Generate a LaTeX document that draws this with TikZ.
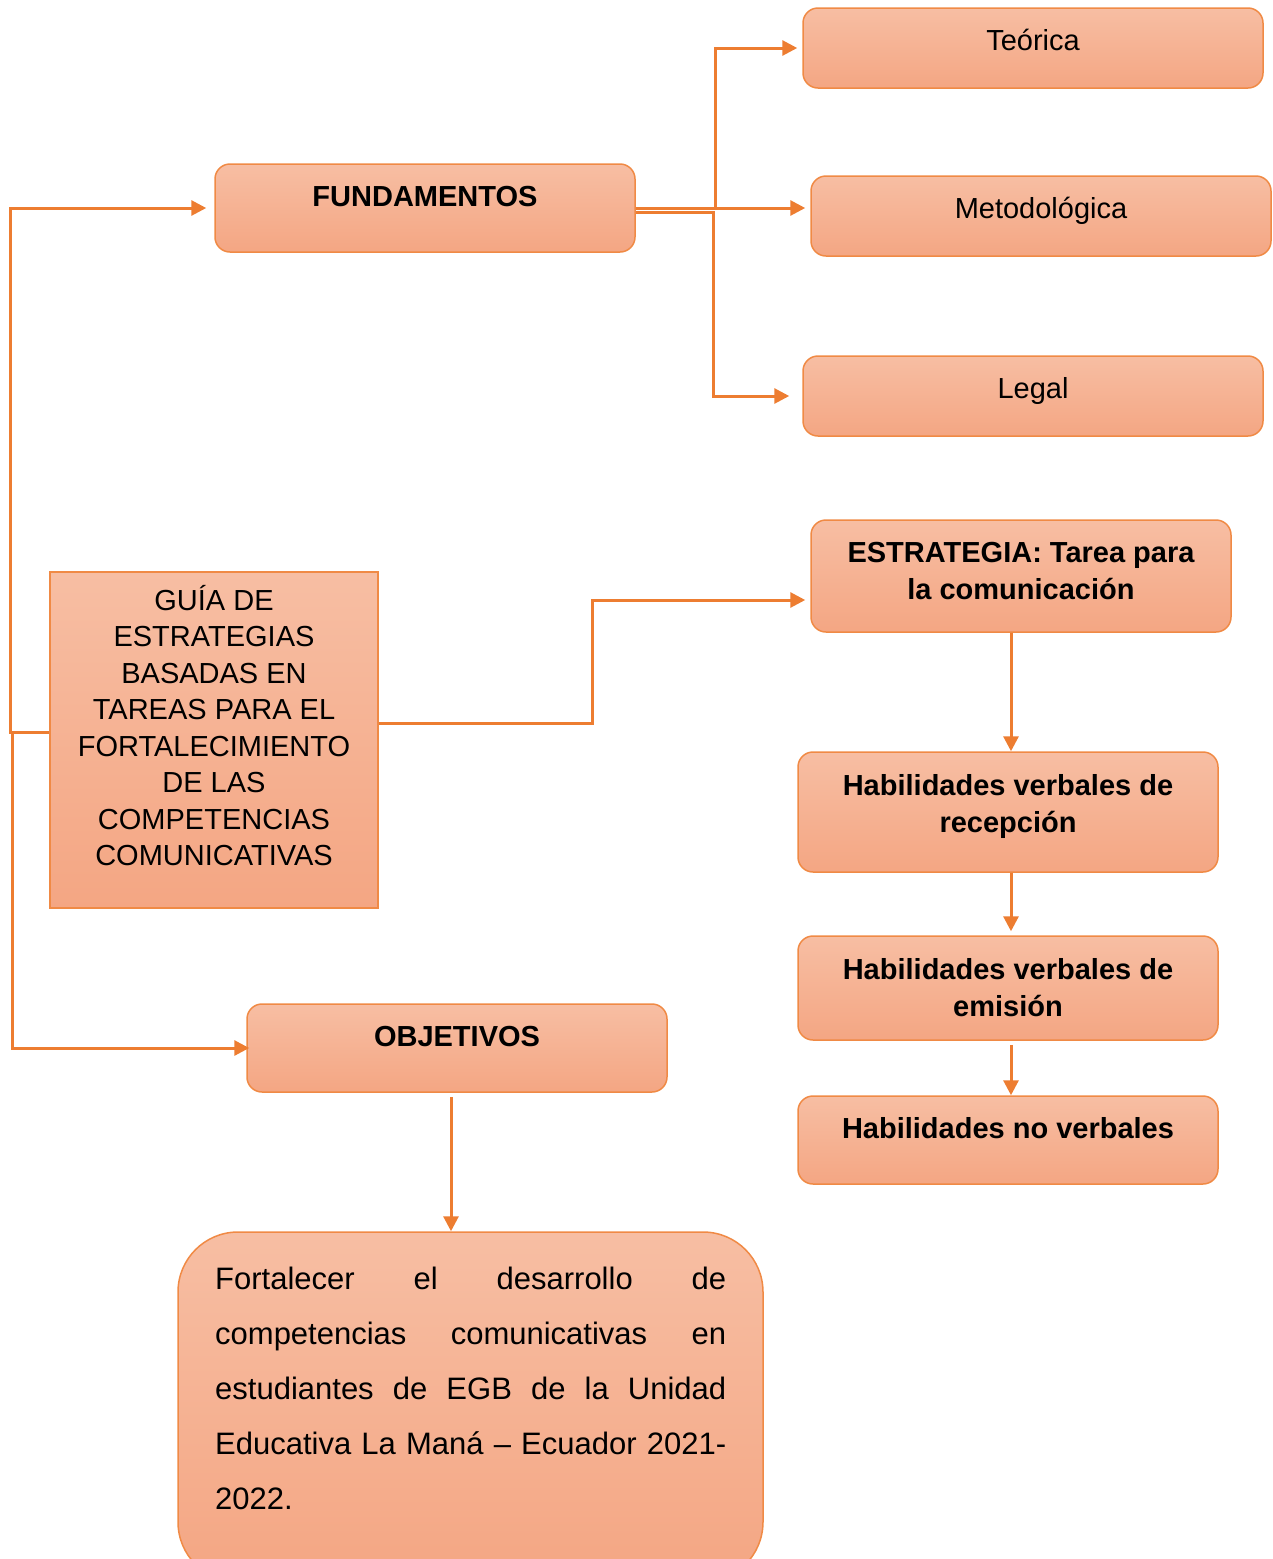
\documentclass[tikz,border=0pt]{standalone}
\usepackage{fontspec}
\setmainfont{Liberation Sans}
\usetikzlibrary{arrows.meta,positioning,calc}
\definecolor{boxtop}{HTML}{F7BEA3}
\definecolor{boxbot}{HTML}{F4A683}
\definecolor{edge}{HTML}{F08A45}
\definecolor{conn}{HTML}{ED7D31}
\tikzset{
  box/.style={draw=edge, line width=1.5pt, top color=boxtop, bottom color=boxbot, rounded corners=15pt, inner sep=0pt},
  sqbox/.style={draw=edge, line width=1.5pt, top color=boxtop, bottom color=boxbot, inner sep=0pt},
  lbl/.style={anchor=north, inner sep=0pt, align=center, font=\fontsize{29}{37}\selectfont},
  blbl/.style={lbl, font=\fontsize{29}{37}\selectfont\bfseries},
  arr/.style={draw=conn, line width=3pt, -{Triangle[length=15pt,width=15pt]}},
}
\newcommand{\tp}{\rule{0pt}{28pt}}
\begin{document}
\begin{tikzpicture}[x=1pt,y=-1pt]
\useasboundingbox (0,0) rectangle (1273,1559);
% boxes
\node[box, minimum width=460pt, minimum height=80pt] (teo) at (1033,48) {};
\node[box, minimum width=460pt, minimum height=80pt] (meto) at (1041,216) {};
\node[box, minimum width=460pt, minimum height=80pt] (legal) at (1033,396) {};
\node[box, minimum width=420pt, minimum height=88pt] (fund) at (425,208) {};
\node[box, minimum width=420pt, minimum height=112pt] (estr) at (1021,576) {};
\node[box, minimum width=420pt, minimum height=120pt] (rec) at (1008,812) {};
\node[box, minimum width=420pt, minimum height=104pt] (emi) at (1008,988) {};
\node[box, minimum width=420pt, minimum height=88pt] (nov) at (1008,1140) {};
\node[box, minimum width=420pt, minimum height=88pt] (obj) at (457,1048) {};
\node[sqbox, minimum width=328pt, minimum height=336pt] (guia) at (214,740) {};
\node[box, rounded corners=60pt, minimum width=585pt, minimum height=350pt] (goal) at (470.5,1407) {};
% texts
\node[lbl] (teot) at ($(teo.north)+(0,15)$) {\tp Teórica};
\node[lbl] (metot) at ($(meto.north)+(0,15)$) {\tp Metodológica};
\node[lbl] (legalt) at ($(legal.north)+(0,15)$) {\tp Legal};
\node[blbl] (fundt) at ($(fund.north)+(0,15)$) {\tp FUNDAMENTOS};
\node[blbl] (estrt) at ($(estr.north)+(0,15)$) {\tp ESTRATEGIA: Tarea para\\la comunicación};
\node[blbl] (rect) at ($(rec.north)+(0,16)$) {\tp Habilidades verbales de\\recepción};
\node[blbl] (emit) at ($(emi.north)+(0,16)$) {\tp Habilidades verbales de\\emisión};
\node[blbl] (novt) at ($(nov.north)+(0,15)$) {\tp Habilidades no verbales};
\node[blbl] (objt) at ($(obj.north)+(0,15)$) {\tp OBJETIVOS};
\node[lbl, font=\fontsize{29}{36.5}\selectfont] (guiat) at ($(guia.north)+(0,11)$) {\tp GUÍA DE\\ESTRATEGIAS\\BASADAS EN\\TAREAS PARA EL\\FORTALECIMIENTO\\DE LAS\\COMPETENCIAS\\COMUNICATIVAS};
\node[anchor=north west, inner sep=0pt, text width=511pt, align=justify, font=\fontsize{31}{55}\selectfont] (goalt) at (215,1261)
  {\hyphenpenalty=10000\rule{0pt}{28pt}Fortalecer el desarrollo de\linebreak competencias comunicativas en\linebreak estudiantes de EGB de la Unidad\linebreak Educativa La Maná – Ecuador 2021-\linebreak 2022.};
% connectors
\draw[arr] (fund.east) -- ++(80,0) |- ([xshift=-5pt]teo.west);
\draw[arr] (fund.east) -- ([xshift=-5pt]fund.east -| meto.west);
\draw[arr] ([yshift=-4pt]fund.east) -- ++(78,0) |- ([xshift=-13pt]legal.west);
\draw[arr] ([yshift=8pt]guia.west) -- ++(-39,0) |- ([xshift=-8pt]fund.west);
\draw[arr] ([yshift=8pt]guia.west) -- ++(-37,0) |- ([xshift=3pt]obj.west);
\draw[arr] ([yshift=17pt]guia.east) -- ++(214,0) |- ([xshift=-5pt,yshift=-24pt]estr.west);
\draw[arr] ([xshift=3pt]rec.north |- estr.south) -- ([xshift=3pt]rec.north);
\draw[arr] ([xshift=3pt]rec.south) -- ([xshift=3pt,yshift=4pt]emi.north);
\draw[arr] ([xshift=3pt,yshift=-4pt]emi.south) -- ([xshift=3pt]nov.north);
\draw[arr] ([xshift=-6pt,yshift=-4pt]obj.south) -- ([xshift=-6pt]obj.south |- goal.north);
\end{tikzpicture}
\end{document}
